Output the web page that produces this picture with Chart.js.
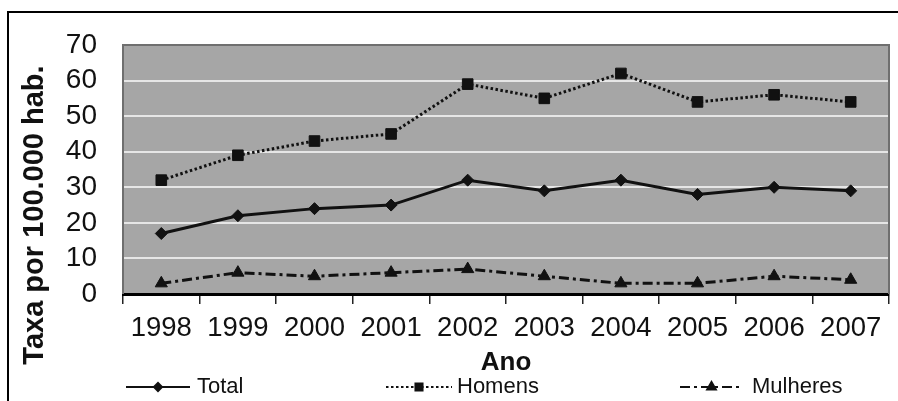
<!DOCTYPE html>
<html>
<head>
<meta charset="utf-8">
<script src="https://cdn.jsdelivr.net/npm/chart.js@4"></script>
<style>
  body { margin: 0; background: #fff; }
  #wrap { width: 898px; height: 401px; }
</style>
</head>
<body>
<div id="wrap"><canvas id="chart" width="898" height="401"></canvas></div>
<script>
const years = ["1998", "1999", "2000", "2001", "2002", "2003", "2004", "2005", "2006", "2007"];
const total = [17, 22, 24, 25, 32, 29, 32, 28, 30, 29];
const homens = [32, 39, 43, 45, 59, 55, 62, 54, 56, 54];
const mulheres = [3, 6, 5, 6, 7, 5, 3, 3, 5, 4];
const yMin = 0, yMax = 70, yStep = 10;

const FONT = "'Liberation Sans', Arial, sans-serif";
const INK = "#111";

// grey plot background, frame, outer box, y title and bottom legend
const decor = {
  id: "decor",
  beforeDraw(chart) {
    const { ctx, chartArea: a } = chart;
    ctx.save();
    ctx.fillStyle = "#fff";
    ctx.fillRect(0, 0, chart.width, chart.height);
    ctx.strokeStyle = "#000";
    ctx.lineWidth = 2;
    ctx.strokeRect(8, 12, 1000, 1000);
    ctx.fillStyle = "#a6a6a6";
    ctx.fillRect(a.left, a.top, a.right - a.left, a.bottom - a.top);
    ctx.restore();
  },
  beforeDatasetsDraw(chart) {
    const { ctx, chartArea: a } = chart;
    ctx.save();
    ctx.strokeStyle = "#6f6f6f";
    ctx.lineWidth = 2;
    ctx.beginPath();
    ctx.moveTo(a.left, a.bottom);
    ctx.lineTo(a.left, a.top);
    ctx.lineTo(a.right, a.top);
    ctx.lineTo(a.right, a.bottom);
    ctx.stroke();
    ctx.restore();
  },
  afterDraw(chart) {
    const { ctx } = chart;
    ctx.save();
    // y axis title
    ctx.translate(35, 215);
    ctx.rotate(-Math.PI / 2);
    ctx.font = "bold 29px " + FONT;
    ctx.fillStyle = INK;
    ctx.textAlign = "center";
    ctx.textBaseline = "middle";
    ctx.fillText("Taxa por 100.000 hab.", 0, 0);
    ctx.restore();

    // legend
    const y = 387;
    const items = [
      { ds: 0, x0: 126, x1: 190, tx: 197, mark: { pointStyle: "rectRot", radius: 4 } },
      { ds: 1, x0: 386, x1: 452, tx: 457, mark: { pointStyle: "rect", radius: 5 } },
      { ds: 2, x0: 680, x1: 743, tx: 752, mark: { pointStyle: "triangle", radius: 5 } }
    ];
    items.forEach((it) => {
      const d = chart.data.datasets[it.ds];
      ctx.save();
      ctx.strokeStyle = INK;
      ctx.lineWidth = 2;
      ctx.setLineDash(d.borderDash || []);
      ctx.beginPath();
      ctx.moveTo(it.x0, y);
      ctx.lineTo(it.x1, y);
      ctx.stroke();
      ctx.setLineDash([]);
      ctx.fillStyle = INK;
      Chart.helpers.drawPoint(ctx, Object.assign({ rotation: 0, borderWidth: 1 }, it.mark), (it.x0 + it.x1) / 2, y);
      ctx.font = "22px " + FONT;
      ctx.textBaseline = "middle";
      ctx.fillText(d.label, it.tx, y);
      ctx.restore();
    });
  }
};

new Chart(document.getElementById("chart"), {
  type: "line",
  data: {
    labels: years,
    datasets: [
      {
        label: "Total",
        data: total,
        borderColor: INK,
        backgroundColor: INK,
        borderWidth: 3,
        pointStyle: "rectRot",
        pointRadius: 6,
        pointBorderWidth: 1
      },
      {
        label: "Homens",
        data: homens,
        borderColor: INK,
        backgroundColor: INK,
        borderWidth: 3,
        borderDash: [2.5, 2.5],
        pointStyle: "rect",
        pointRadius: 7.5,
        pointBorderWidth: 1
      },
      {
        label: "Mulheres",
        data: mulheres,
        borderColor: INK,
        backgroundColor: INK,
        borderWidth: 3,
        borderDash: [10, 4, 3, 4],
        pointStyle: "triangle",
        pointRadius: 7,
        pointBorderWidth: 1
      }
    ]
  },
  options: {
    responsive: false,
    animation: false,
    layout: { padding: { left: 0, top: 45, right: 9, bottom: 23 } },
    plugins: {
      legend: { display: false },
      tooltip: { enabled: false }
    },
    scales: {
      x: {
        offset: true,
        grid: {
          offset: true,
          drawOnChartArea: false,
          drawTicks: true,
          tickLength: 10,
          color: "#222",
          lineWidth: 1.5
        },
        border: { color: "#000", width: 3 },
        ticks: {
          color: INK,
          font: { family: FONT, size: 27.5 },
          padding: 8,
          maxRotation: 0,
          autoSkip: false
        },
        title: {
          display: true,
          text: "Ano",
          color: INK,
          font: { family: FONT, size: 26, weight: "bold" },
          padding: { top: 0, bottom: 0 }
        },
        afterFit(scale) { scale.height = 84; }
      },
      y: {
        min: yMin,
        max: yMax,
        ticks: {
          stepSize: yStep,
          autoSkip: false,
          color: INK,
          font: { family: FONT, size: 28 },
          padding: 26
        },
        grid: {
          color: "#e6e6e6",
          lineWidth: 2,
          drawTicks: false
        },
        border: { display: false },
        afterFit(scale) { scale.width = 123; }
      }
    }
  },
  plugins: [decor]
});
</script>
</body>
</html>
